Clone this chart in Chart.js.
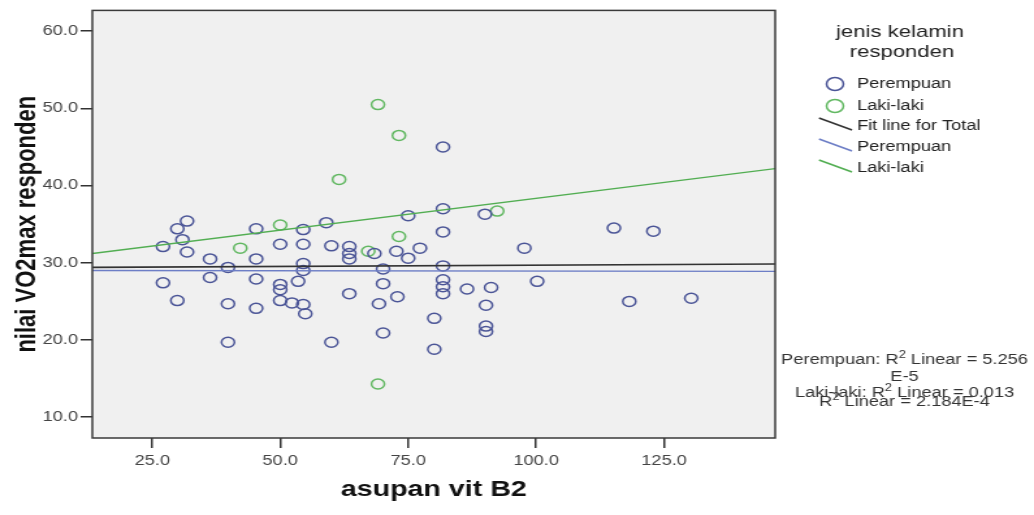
<!DOCTYPE html>
<html>
<head>
<meta charset="utf-8">
<script src="https://cdn.jsdelivr.net/npm/chart.js@4.4.0/dist/chart.umd.min.js"></script>
<style>
  html, body { margin: 0; padding: 0; background: #fff; }
</style>
</head>
<body>
<canvas id="chart" width="795" height="515" style="width:1034px;height:515px;display:block;"></canvas>
<script>
// asupan vit B2 (x) vs nilai VO2max (y), by sex
const femaleX = [27.1,29.9,30.9,31.8,31.8,36.3,36.3,39.8,27.1,29.9,39.8,39.8,45.3,45.3,45.3,45.3,50.0,50.0,50.0,50.0,52.3,53.5,54.5,54.5,54.5,54.5,54.5,54.9,59.0,60.0,60.0,63.5,63.5,63.5,63.5,68.4,70.1,70.1,69.3,70.1,72.7,72.9,75.0,75.0,77.3,81.8,81.8,81.8,81.8,81.8,81.8,81.8,86.5,90.0,91.2,90.2,90.2,90.2,80.1,80.1,97.7,100.2,115.2,122.9,118.2,130.3];
const femaleY = [32.1,34.4,33.0,35.4,31.4,30.5,28.1,29.4,27.4,25.1,24.7,19.7,34.4,30.5,27.9,24.1,32.4,27.2,26.5,25.1,24.8,27.6,34.3,32.4,29.9,29.0,24.6,23.4,35.2,32.2,19.7,32.1,31.2,30.5,26.0,31.2,29.2,27.3,24.7,20.9,31.5,25.6,36.1,30.6,31.9,45.0,37.0,34.0,29.6,27.8,26.9,26.0,26.6,36.3,26.8,24.5,21.8,21.1,22.8,18.8,31.9,27.6,34.5,34.1,25.0,25.4];
const maleX = [69.1,73.2,61.5,50.0,42.2,67.2,73.2,92.4,69.1];
const maleY = [50.5,46.5,40.8,34.9,31.9,31.5,33.4,36.7,14.3];

// fit lines, drawn across the whole x range
const fitX = [13.3, 146.7];
const fitTotalY = [29.4, 29.85];
const fitFemaleY = [29.0, 28.9];
const fitMaleY = [31.2, 42.2];

const xTicks = [25, 50, 75, 100, 125];
const yTicks = [10, 20, 30, 40, 50, 60];

const legendTitle = ['jenis kelamin', 'responden'];
const notes = [
  [['Perempuan: R', 0], ['2', 1], [' Linear = 5.256', 0]],
  [['E-5', 0]],
  [['Laki-laki: R', 0], ['2', 1], [' Linear = 0.013', 0]],
  [['R', 0], ['2', 1], [' Linear = 2.184E-4', 0]]
];

const FONT = "'Liberation Sans', Arial, sans-serif";
const BLUE = '#4b5597', GREEN = '#62b862';
const BLUE_LINE = '#6d7ec6', GREEN_LINE = '#52ae52', TOTAL_LINE = '#333333';

// the source picture is stretched sideways, so the canvas is too
const S = 1034 / 795;
const sx = v => v / S;

const pts = (xs, ys) => xs.map((x, i) => ({x: x, y: ys[i]}));

function drawParts(ctx, parts, cx, y) {
  let w = 0;
  parts.forEach(p => {
    ctx.font = p[1] ? '10px ' + FONT : '14px ' + FONT;
    w += ctx.measureText(p[0]).width;
  });
  let x = cx - w / 2;
  parts.forEach(p => {
    ctx.font = p[1] ? '10px ' + FONT : '14px ' + FONT;
    ctx.fillText(p[0], x, p[1] ? y - 5 : y);
    x += ctx.measureText(p[0]).width;
  });
}

const frame = {
  id: 'frame',
  beforeDraw(chart) {
    const {ctx, chartArea: a} = chart;
    ctx.save();
    ctx.fillStyle = '#f0f0f0';
    ctx.fillRect(a.left, a.top, a.right - a.left, a.bottom - a.top);
    ctx.restore();
  },
  afterDraw(chart) {
    const {ctx, chartArea: a} = chart;
    ctx.save();
    ctx.strokeStyle = '#3a3a3a';
    ctx.lineWidth = 1.5;
    ctx.strokeRect(a.left, a.top, a.right - a.left, a.bottom - a.top);

    // legend
    ctx.fillStyle = '#222';
    ctx.textAlign = 'center';
    ctx.textBaseline = 'middle';
    ctx.font = '17px ' + FONT;
    ctx.fillText(legendTitle[0], sx(900), 32);
    ctx.fillText(legendTitle[1], sx(902), 52);

    ctx.textAlign = 'left';
    ctx.font = '14px ' + FONT;
    const items = [
      {type: 'pt', color: BLUE, text: 'Perempuan', y: 84},
      {type: 'pt', color: GREEN, text: 'Laki-laki', y: 106},
      {type: 'ln', color: TOTAL_LINE, text: 'Fit line for Total', y: 126},
      {type: 'ln', color: BLUE_LINE, text: 'Perempuan', y: 147},
      {type: 'ln', color: GREEN_LINE, text: 'Laki-laki', y: 168}
    ];
    items.forEach(it => {
      ctx.strokeStyle = it.color;
      ctx.lineWidth = 1.5;
      ctx.beginPath();
      if (it.type === 'pt') {
        ctx.arc(sx(835), it.y, 6.5, 0, Math.PI * 2);
      } else {
        ctx.moveTo(sx(819), it.y - 8);
        ctx.lineTo(sx(852), it.y + 4);
      }
      ctx.stroke();
      ctx.fillStyle = '#222';
      ctx.fillText(it.text, sx(857), it.y);
    });

    // R2 notes
    ctx.fillStyle = '#333';
    ctx.textAlign = 'left';
    const ny = [360, 377, 393, 402];
    notes.forEach((n, i) => drawParts(ctx, n, sx(904.5), ny[i]));
    ctx.restore();
  }
};

new Chart(document.getElementById('chart'), {
  type: 'scatter',
  data: {
    datasets: [
      {label: 'Fit line for Total', data: pts(fitX, fitTotalY), showLine: true, pointRadius: 0, borderColor: TOTAL_LINE, borderWidth: 1.6},
      {label: 'Perempuan (fit)', data: pts(fitX, fitFemaleY), showLine: true, pointRadius: 0, borderColor: BLUE_LINE, borderWidth: 1.3},
      {label: 'Laki-laki (fit)', data: pts(fitX, fitMaleY), showLine: true, pointRadius: 0, borderColor: GREEN_LINE, borderWidth: 1.3},
      {label: 'Perempuan', data: pts(femaleX, femaleY), pointRadius: 5, pointBorderWidth: 1.5, borderColor: BLUE, backgroundColor: 'rgba(0,0,0,0)'},
      {label: 'Laki-laki', data: pts(maleX, maleY), pointRadius: 5, pointBorderWidth: 1.5, borderColor: GREEN, backgroundColor: 'rgba(0,0,0,0)'}
    ]
  },
  options: {
    responsive: false,
    animation: false,
    devicePixelRatio: 1,
    layout: {padding: {top: 8, right: 199, left: 0, bottom: 0}},
    plugins: {
      legend: {display: false},
      tooltip: {enabled: false}
    },
    scales: {
      x: {
        type: 'linear',
        min: 13.3, max: 146.7,
        afterBuildTicks: s => { s.ticks = xTicks.map(v => ({value: v})); },
        afterFit: s => { s.height = 77; },
        grid: {drawOnChartArea: false, drawTicks: true, tickLength: 10, color: '#333', lineWidth: 1.5},
        border: {display: false},
        ticks: {font: {family: FONT, size: 14}, color: '#444', padding: 5, autoSkip: false, maxRotation: 0,
                callback: v => Number(v).toFixed(1)},
        title: {display: true, text: 'asupan vit B2', color: '#111',
                font: {family: FONT, size: 22, weight: 'bold', lineHeight: 1.2}, padding: {top: 0, bottom: 12}}
      },
      y: {
        type: 'linear',
        min: 7.3, max: 62.7,
        afterBuildTicks: s => { s.ticks = yTicks.map(v => ({value: v})); },
        afterFit: s => { s.width = 71; },
        grid: {drawOnChartArea: false, drawTicks: true, tickLength: 9, color: '#333', lineWidth: 1.5},
        border: {display: false},
        ticks: {font: {family: FONT, size: 14}, color: '#444', padding: 2, autoSkip: false,
                callback: v => Number(v).toFixed(1)},
        title: {display: true, text: 'nilai VO2max responden', color: '#111',
                font: {family: FONT, size: 22, weight: 'bold', lineHeight: 1.2}, padding: {top: 8, bottom: 0}}
      }
    }
  },
  plugins: [frame]
});
</script>
</body>
</html>
